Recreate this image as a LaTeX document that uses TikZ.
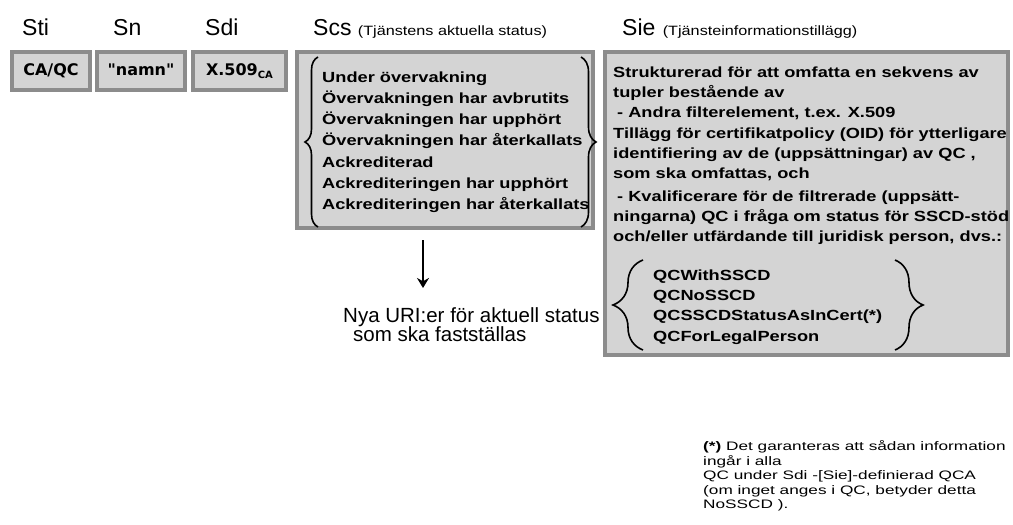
\documentclass[tikz,border=0pt]{standalone}
\usepackage{fontspec}
\setmainfont{Liberation Sans}
\newfontfamily\boxfont[FakeStretch=1.24]{Liberation Sans}
\newfontfamily\widefont[FakeStretch=1.2]{Liberation Sans}
\newfontfamily\notefont[FakeStretch=1.4]{Liberation Sans}
\newfontfamily\tagfont{DejaVu Sans}
\usetikzlibrary{positioning,arrows.meta,decorations.pathreplacing}

\begin{document}
\begin{tikzpicture}[x=1pt,y=-1pt,>={Stealth[length=10pt,width=12pt]}]
\tikzstyle{fld}=[draw=black!45,line width=3.5pt,fill=black!17,inner sep=0pt]
\tikzstyle{hdr}=[anchor=base west,inner sep=0pt,font=\fontsize{23}{23}\selectfont]
\tikzstyle{sub}=[inner sep=0pt,font=\widefont\fontsize{13.5}{13.5}\selectfont]
\tikzstyle{tag}=[font=\tagfont\bfseries\fontsize{16}{16}\selectfont,text height=12pt,text depth=3pt]
\tikzstyle{lst}=[anchor=north west,align=left,inner sep=0pt]
\tikzstyle{brc}=[decorate,line width=1.6pt]
\useasboundingbox (0,0) rectangle (1013,525);
% column headers
\node[hdr] (hsti) at (22,35) {Sti};
\node[hdr] (hsn) at (113,35) {Sn};
\node[hdr] (hsdi) at (205,35) {Sdi};
\node[hdr] (hscs) at (313,35) {Scs};
\node[sub,base right=6pt of hscs] (hscsx) {(Tjänstens aktuella status)};
\node[hdr] (hsie) at (622,35) {Sie};
\node[sub,base right=7pt of hsie] (hsiex) {(Tjänsteinformationstillägg)};
% fields
\node[fld,tag,minimum width=78pt,minimum height=38pt] (sti) at (51,71) {CA/QC};
\node[fld,tag,minimum width=88pt,minimum height=38pt] (sn) at (141,71) {"namn"};
\node[fld,tag,minimum width=93pt,minimum height=38pt] (sdi) at (239.5,71)
{X.509\raisebox{-3pt}{\fontsize{10}{10}\selectfont CA}};
\node[fld,minimum width=296pt,minimum height=176pt] (scs) at (445,140) {};
\node[fld,minimum width=403pt,minimum height=303pt] (sie) at (806.5,203.5) {};
% status list
\node[lst,font=\boxfont\bfseries\fontsize{14.7}{21.2}\selectfont] (scsl) at (322,71.5)
{Under övervakning\\
Övervakningen har avbrutits\\
Övervakningen har upphört\\
Övervakningen har återkallats\\
Ackrediterad\\
Ackrediteringen har upphört\\
Ackrediteringen har återkallats};
\draw[brc,decoration={brace,amplitude=13pt}] (318,227) -- (318,57);
\draw[brc,decoration={brace,amplitude=15pt}] (581,57) -- (581,227);
% extension text
\node[lst,font=\boxfont\bfseries\fontsize{14.7}{20.3}\selectfont] (siet) at (613,66.5)
{Strukturerad för att omfatta en sekvens av\\
tupler bestående av\\
\hspace*{4pt}- Andra filterelement, t.ex. X.509\\
Tillägg för certifikatpolicy (OID) för ytterligare\\
identifiering av de (uppsättningar) av QC ,\\
som ska omfattas, och\\[2pt]
\hspace*{4pt}- Kvalificerare för de filtrerade (uppsätt-\\
ningarna) QC i fråga om status för SSCD-stöd\\
och/eller utfärdande till juridisk person, dvs.:};
\node[lst,font=\boxfont\bfseries\fontsize{14.7}{20.3}\selectfont] (qcl) at (653,269.5)
{QCWithSSCD\\
QCNoSSCD\\
QCSSCDStatusAsInCert(*)\\
QCForLegalPerson};
\draw[brc,decoration={brace,amplitude=30pt}] (643,350) -- (643,260);
\draw[brc,decoration={brace,amplitude=28pt}] (895,260) -- (895,350);
% new URIs
\coordinate (a1) at (423,240);
\coordinate (a2) at (423,288);
\draw[->,line width=2pt] (a1) -- (a2);
\node[lst,font=\fontsize{20.5}{19.5}\selectfont] (nya) at (343,307)
{Nya URI:er för aktuell status\\
\hspace*{10pt}som ska fastställas};
% footnote
\node[lst,font=\notefont\fontsize{12.3}{14.5}\selectfont] (note) at (703,440.5)
{\textbf{(*)} Det garanteras att sådan information\\
ingår i alla\\
QC under Sdi -[Sie]-definierad QCA\\
(om inget anges i QC, betyder detta\\
NoSSCD ).};
\end{tikzpicture}
\end{document}
